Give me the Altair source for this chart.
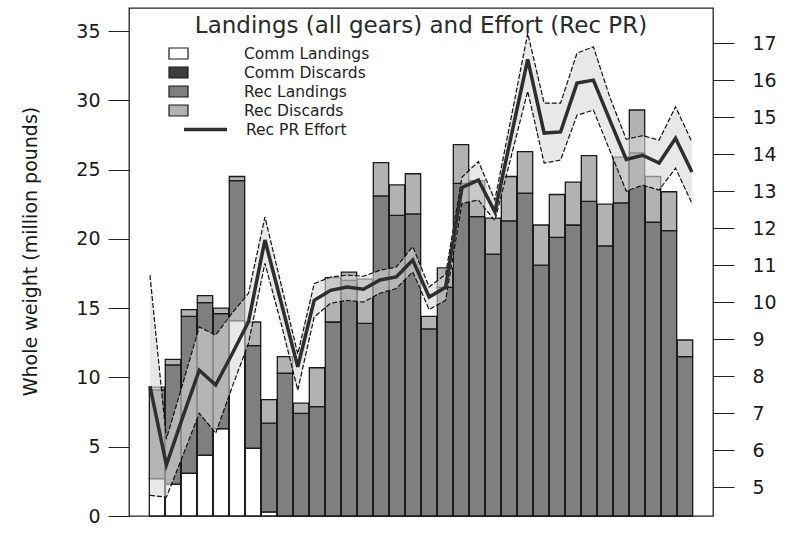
import altair as alt
import pandas as pd

# ---- data -------------------------------------------------------------
years = list(range(1981, 2015))

# whole weight, million pounds
comm_landings = [2.7, 2.3, 3.1, 4.4, 6.3, 14.1, 4.9, 0.3, 0, 0,
                 0, 0, 0, 0, 0, 0, 0, 0, 0, 0,
                 0, 0, 0, 0, 0, 0, 0, 0, 0, 0,
                 0, 0, 0, 0]
comm_discards = [0, 0, 0, 0, 0, 0, 0, 0, 0, 0,
                 0, 0, 0, 0, 0, 0, 0, 0, 0, 0,
                 0, 0, 0, 0, 0, 0, 0, 0, 0, 0,
                 0, 0, 0, 0]
rec_landings = [6.4, 8.6, 11.3, 11.0, 8.3, 10.1, 7.4, 6.4, 10.3, 7.4,
                7.9, 14.0, 17.0, 13.9, 23.1, 21.7, 21.8, 13.5, 16.5, 24.0,
                21.6, 18.9, 21.3, 23.3, 18.1, 20.1, 21.0, 22.7, 19.5, 22.6,
                26.2, 21.2, 20.6, 11.5]
rec_discards = [0.2, 0.4, 0.5, 0.5, 0.4, 0.3, 1.7, 1.7, 1.2, 0.75,
                2.8, 3.2, 0.6, 3.2, 2.4, 2.2, 2.9, 0.9, 1.4, 2.8,
                2.6, 2.6, 3.2, 3.0, 2.9, 3.1, 3.1, 3.3, 3.0, 3.3,
                3.1, 3.3, 2.8, 1.2]

# recreational private-boat effort with its interval
effort_mean = [7.73, 5.6, 6.9, 8.16, 7.76, 8.6, 9.47, 11.68, 9.97, 8.25,
               10.05, 10.32, 10.41, 10.35, 10.6, 10.68, 11.14, 10.14, 10.4, 13.1,
               13.3, 12.44, 14.5, 16.56, 14.57, 14.6, 15.92, 16.0, 14.92, 13.86,
               13.97, 13.76, 14.43, 13.52]
effort_lower = [4.78, 4.73, 5.85, 7.0, 6.46, 7.7, 8.89, 11.05, 9.4, 7.62,
                9.6, 9.97, 10.05, 10.0, 10.24, 10.37, 10.82, 9.8, 10.05, 12.67,
                12.76, 12.2, 13.95, 15.7, 13.76, 13.84, 15.05, 15.19, 14.1, 13.0,
                13.16, 13.03, 13.62, 12.67]
effort_upper = [10.73, 6.3, 7.8, 9.33, 9.11, 9.7, 10.24, 12.3, 10.45, 8.6,
                10.5, 10.68, 10.73, 10.7, 10.86, 10.95, 11.5, 10.41, 10.75, 13.38,
                13.8, 12.76, 15.0, 17.27, 15.38, 15.38, 16.73, 16.9, 15.54, 14.4,
                14.5, 14.38, 15.28, 14.33]

series_names = ["Comm Landings", "Comm Discards", "Rec Landings", "Rec Discards"]
series_colors = ["#ffffff", "#3d3d3d", "#7f7f7f", "#b2b2b2"]
x_ticks = [1981, 1987, 1993, 1999, 2005, 2011]
title_text = ["Landings (all gears) and Effort (Rec PR)"]

# ---- tables -----------------------------------------------------------
rows = []
for k, vals in enumerate([comm_landings, comm_discards, rec_landings, rec_discards]):
    for yr, v in zip(years, vals):
        rows.append({"year": yr, "series": series_names[k], "order": k, "value": v})
bars_df = pd.DataFrame(rows)

effort_df = pd.DataFrame({"year": years, "mean": effort_mean,
                          "lower": effort_lower, "upper": effort_upper})

FONT = "DejaVu Sans"
x_scale = alt.Scale(domain=[1979.25, 2015.75], nice=False, zero=False)

# ---- stacked bars (left axis) ----------------------------------------
bars = alt.Chart(bars_df).transform_stack(
    stack="value", groupby=["year"], as_=["y0", "y1"],
    sort=[alt.SortField("order", order="ascending")]
).transform_calculate(
    x0="datum.year - 0.48", x1="datum.year + 0.48"
).mark_bar(stroke="#1a1a1a", strokeWidth=1.3).encode(
    x=alt.X("x0:Q", scale=x_scale,
            axis=alt.Axis(values=x_ticks, format="d", title=None, ticks=False,
                          domain=False, grid=False, labelFontSize=19,
                          labelPadding=9, labelColor="#1a1a1a")),
    x2="x1:Q",
    y=alt.Y("y0:Q", scale=alt.Scale(domain=[0, 36.66], nice=False, zero=False),
            axis=alt.Axis(values=[0, 5, 10, 15, 20, 25, 30, 35], grid=False,
                          domain=False, tickSize=21, tickColor="#222",
                          labelFontSize=19, labelPadding=8, labelColor="#1a1a1a",
                          title="Whole weight (million pounds)", titleFontSize=19,
                          titleFontWeight="normal", titleColor="#1a1a1a",
                          titleX=-99, titleY=243, titleAngle=-90,
                          titleAlign="center", titleBaseline="middle")),
    y2="y1:Q",
    fill=alt.Fill("series:N",
                  scale=alt.Scale(domain=series_names, range=series_colors),
                  legend=alt.Legend(orient="none", legendX=39, legendY=35,
                                    title=None, padding=0, rowPadding=0,
                                    symbolType="M-1,-0.58H1V0.58H-1Z",
                                    symbolSize=361, symbolStrokeColor="#1a1a1a",
                                    symbolStrokeWidth=1.2, labelOffset=55,
                                    labelFontSize=15.5, labelColor="#222",
                                    labelLimit=300)),
)

# ---- effort band and lines (right axis) ------------------------------
y_right = alt.Scale(domain=[4.22, 17.95], nice=False, zero=False)
right_axis = alt.Axis(orient="right", values=list(range(5, 18)), grid=False,
                      domain=False, tickSize=21, tickColor="#222",
                      labelFontSize=19, labelPadding=18, labelColor="#1a1a1a",
                      title=None)

# the effort series runs on its own x grid, a little wider than the bar spacing
eff = alt.Chart(effort_df).transform_calculate(
    xpos="1980.56 + (datum.year - 1981) * 1.0265"
)
ex = alt.X("xpos:Q", scale=x_scale, axis=None)

band = eff.mark_area(color="#d9d9d9", opacity=0.6).encode(
    x=ex,
    y=alt.Y("lower:Q", scale=y_right, axis=right_axis),
    y2="upper:Q",
)
upper_line = eff.mark_line(color="#111", strokeWidth=1.2, strokeDash=[5, 2]).encode(
    x=ex,
    y=alt.Y("upper:Q", scale=y_right, axis=right_axis),
)
lower_line = eff.mark_line(color="#111", strokeWidth=1.2, strokeDash=[5, 2]).encode(
    x=ex,
    y=alt.Y("lower:Q", scale=y_right, axis=right_axis),
)
mean_line = eff.transform_calculate(label="'Rec PR Effort'").mark_line(
    strokeWidth=3.5
).encode(
    x=ex,
    y=alt.Y("mean:Q", scale=y_right, axis=right_axis),
    stroke=alt.Stroke("label:N",
                      scale=alt.Scale(domain=["Rec PR Effort"], range=["#2e2e2e"]),
                      legend=alt.Legend(orient="none", legendX=53, legendY=98,
                                        title=None, padding=0,
                                        symbolSize=1849, symbolStrokeWidth=3.5,
                                        labelOffset=17, labelFontSize=15.5,
                                        labelColor="#222")),
)

effort = alt.layer(band, upper_line, lower_line, mean_line)

# ---- heading inside the plot frame -----------------------------------
heading = alt.Chart(pd.DataFrame({"label": title_text})).mark_text(
    font=FONT, fontSize=23, color="#2a2a2a", align="center",
    baseline="alphabetic"
).encode(
    text="label:N",
    x=alt.value(292),
    y=alt.value(25),
)

chart = alt.layer(bars, effort, heading).resolve_scale(
    y="independent"
).properties(
    width=584, height=508,
    autosize=alt.AutoSizeParams(type="none"),
    padding={"left": 129, "top": 8, "right": 75, "bottom": 33},
).configure(
    font=FONT, background="white"
).configure_view(
    stroke="#222", strokeWidth=1.3
)

chart.save("out.html", embed_options={"renderer": "svg", "actions": False})
